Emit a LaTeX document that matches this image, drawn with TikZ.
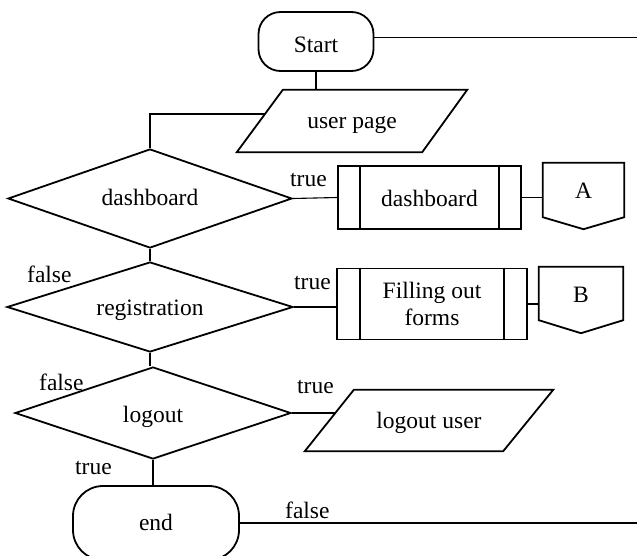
\documentclass[tikz,border=0pt]{standalone}
\usepackage{fontspec}
\setmainfont{Liberation Serif}
\usetikzlibrary{shapes.geometric,calc}
\begin{document}
\begin{tikzpicture}[x=1pt,y=-1pt,
  font=\fontsize{23.5}{27}\selectfont,
  shapeline/.style={draw=black, line width=1.8pt},
  flow/.style={draw=black, line width=1.1pt},
  textline/.style={text height=#1, text depth=0pt},
  terminal/.style={shapeline, rectangle, rounded corners=#1, inner sep=0pt},
  decision/.style={shapeline, diamond, aspect=3, inner sep=0pt},
  iobox/.style={rectangle, inner sep=0pt},
  process/.style={shapeline, rectangle, inner sep=0pt, align=center},
  offpage/.style={rectangle, inner sep=0pt},
  tag/.style={anchor=base west, inner sep=0pt},
]
\path[use as bounding box, clip] (0,0) rectangle (637,555);

% terminals
\node[terminal=22pt, textline=21pt, minimum width=115pt, minimum height=59pt] (start) at (316,41.5) {Start};
\node[terminal=30pt, textline=14pt, minimum width=166pt, minimum height=74pt] (end) at (156,523) {end};

% input / output: parallelograms drawn over their bounding boxes
\node[iobox, textline=14pt, minimum width=230pt, minimum height=62pt] (up) at (352,121) {user page};
\draw[shapeline] (up.south west) -- ([xshift=46pt]up.north west) -- (up.north east)
  -- ([xshift=-45pt]up.south east) -- cycle;
\coordinate (upin) at ($(up.south west)!0.613!([xshift=46pt]up.north west)$);
\node[iobox, textline=15pt, minimum width=248pt, minimum height=61pt] (lu) at (429,420.5) {logout user};
\draw[shapeline] (lu.south west) -- ([xshift=49pt]lu.north west) -- (lu.north east)
  -- ([xshift=-50pt]lu.south east) -- cycle;
\coordinate (luin) at ($(lu.south west)!0.623!([xshift=49pt]lu.north west)$);

% decisions
\node[decision, textline=13pt, minimum width=284pt, minimum height=99pt] (dash) at (150,198.5) {dashboard};
\node[decision, textline=16pt, minimum width=286pt, minimum height=90pt] (reg) at (150,307) {registration};
\node[decision, textline=18pt, minimum width=276pt, minimum height=92pt] (logout) at (153,413) {logout};

% predefined processes
\node[process, textline=17pt, minimum width=183pt, minimum height=63pt] (dbx) at (429.5,197.5) {dashboard};
\draw[shapeline] ([xshift=23pt]dbx.north west) -- ([xshift=23pt]dbx.south west);
\draw[shapeline] ([xshift=-23pt]dbx.north east) -- ([xshift=-23pt]dbx.south east);
\node[process, minimum width=190pt, minimum height=71pt] (fbx) at (432,304) {Filling out\\forms};
\draw[shapeline] ([xshift=24pt]fbx.north west) -- ([xshift=24pt]fbx.south west);
\draw[shapeline] ([xshift=-24pt]fbx.north east) -- ([xshift=-24pt]fbx.south east);

% off-page connectors
\node[offpage, textline=16pt, minimum width=81pt, minimum height=54pt] (A) at (583.5,190) {A};
\draw[shapeline] (A.north west) -- (A.north east) -- (A.south east)
  -- ([yshift=-12pt]A.south) -- (A.south west) -- cycle;
\node[offpage, textline=17pt, minimum width=84pt, minimum height=53pt] (B) at (581,293.5) {B};
\draw[shapeline] (B.north west) -- (B.north east) -- (B.south east)
  -- ([yshift=-13pt]B.south) -- (B.south west) -- cycle;

% loose ends at the right border
\coordinate (startout) at (637,37.5);
\coordinate (endout) at (637,523);

% connectors
\draw[flow] ([yshift=4pt]start.east) -- (startout);
\draw[flow] (start.south) -- (start.south |- up.north);
\draw[flow] (upin) -| (dash.north);
\draw[flow] (dash.east) -- (dbx.west);
\draw[flow] (dbx.east) -- (dbx.east -| A.west);
\draw[flow] (dash.south) -- (reg.north);
\draw[flow] (reg.east) -- (reg.east -| fbx.west);
\draw[flow] (fbx.east) -- (fbx.east -| B.west);
\draw[flow] (reg.south) -- (reg.south |- logout.north);
\draw[flow] (logout.east) -- (logout.east -| luin);
\draw[flow] (logout.south) -- (logout.south |- end.north);
\draw[flow] (end.east) -- (endout);

% branch labels
\node[tag] (t1) at (290,186) {true};
\node[tag] (t2) at (294,289) {true};
\node[tag] (f1) at (27,282) {false};
\node[tag] (f2) at (39,390) {false};
\node[tag] (t3) at (297,393) {true};
\node[tag] (t4) at (75,474) {true};
\node[tag] (f3) at (285,518) {false};
\end{tikzpicture}
\end{document}
